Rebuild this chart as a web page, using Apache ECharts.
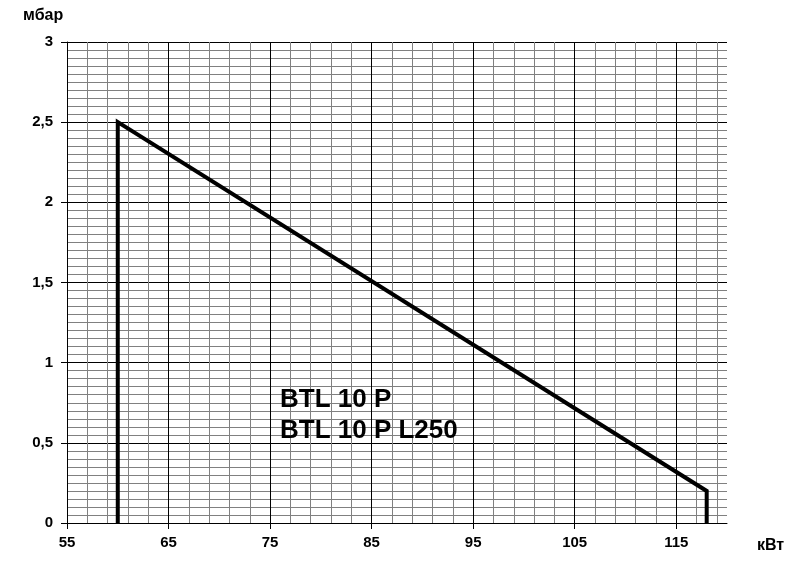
<!DOCTYPE html>
<html>
<head>
<meta charset="utf-8">
<script src="https://cdn.jsdelivr.net/npm/echarts@6/dist/echarts.min.js"></script>
<style>
html,body{margin:0;padding:0;background:#fff;}
#c{width:794px;height:567px;}
</style>
</head>
<body>
<div id="c"></div>
<script>
// Data
const xTicks = [55, 65, 75, 85, 95, 105, 115];
const yTicks = [0, 0.5, 1, 1.5, 2, 2.5, 3];
const curveX = [60, 60, 118, 118];
const curveY = [0, 2.5, 0.2, 0];
const modelLabels = ['BTL 10 P', 'BTL 10 P L250'];
const yUnit = 'мбар';
const xUnit = 'кВт';

const FONT = '"Liberation Sans", Arial, sans-serif';
const BLACK = '#000000';
const GRAY = '#808080';
const NONE = 'rgba(0,0,0,0)';

// split line colour cycles (one entry per unit tick of the hidden grid axes)
const xPattern = [BLACK, NONE, GRAY, NONE, GRAY, NONE, GRAY, NONE, GRAY, NONE];
const yPattern = [BLACK, GRAY, GRAY, GRAY, GRAY, GRAY, GRAY, GRAY, GRAY, GRAY];

const labelStyle = {color: BLACK, fontFamily: FONT, fontWeight: 'bold', fontSize: 15};

const chart = echarts.init(document.getElementById('c'), null, {renderer: 'canvas'});
chart.setOption({
  animation: false,
  backgroundColor: '#ffffff',
  grid: {left: 67, top: 42, right: 67, bottom: 44, containLabel: false},
  xAxis: [{
    type: 'value', min: 55, max: 120, position: 'bottom', z: 3,
    axisLine: {show: true, lineStyle: {color: BLACK, width: 1}},
    axisTick: {show: true, inside: false, length: 6, customValues: xTicks, lineStyle: {color: BLACK, width: 1}},
    axisLabel: Object.assign({customValues: xTicks, margin: 12}, labelStyle),
    splitLine: {show: false}
  }, {
    type: 'value', min: 55, max: 120, interval: 1, position: 'top', z: 1,
    axisLine: {show: false}, axisTick: {show: false}, axisLabel: {show: false},
    splitLine: {show: true, lineStyle: {color: xPattern, width: 1}}
  }],
  yAxis: [{
    type: 'value', min: 0, max: 3, position: 'left', z: 3,
    axisLine: {show: true, lineStyle: {color: BLACK, width: 1}},
    axisTick: {show: true, inside: false, length: 6, customValues: yTicks, lineStyle: {color: BLACK, width: 1}},
    axisLabel: Object.assign({customValues: yTicks, margin: 14, formatter: v => String(v).replace('.', ',')}, labelStyle),
    splitLine: {show: false}
  }, {
    type: 'value', min: 0, max: 3, interval: 0.05, position: 'right', z: 1,
    axisLine: {show: false}, axisTick: {show: false}, axisLabel: {show: false},
    splitLine: {show: true, lineStyle: {color: yPattern, width: 1}}
  }],
  graphic: [
    {type: 'text', left: 23, top: 8, style: {text: yUnit, fill: BLACK, font: 'bold 16px ' + FONT}},
    {type: 'text', left: 757, top: 538, style: {text: xUnit, fill: BLACK, font: 'bold 16px ' + FONT}},
    {type: 'text', left: 280, top: 384, z: 10, style: {text: modelLabels.join('\n'), lineHeight: 31, fill: BLACK, font: 'bold 26px ' + FONT}}
  ],
  series: [{
    type: 'line',
    xAxisIndex: 0, yAxisIndex: 0,
    data: curveX.map((x, i) => [x, curveY[i]]),
    symbol: 'none',
    lineStyle: {color: BLACK, width: 4, join: 'miter'},
    z: 5
  }]
});
</script>
</body>
</html>
